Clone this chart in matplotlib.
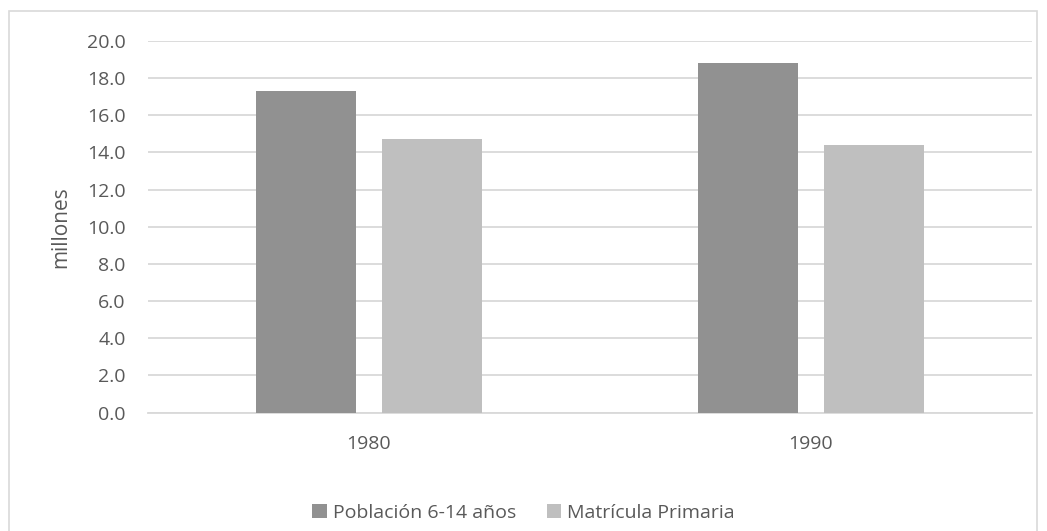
import matplotlib.pyplot as plt
import numpy as np
from matplotlib.patches import Rectangle

plt.rcParams["font.family"] = ["Open Sans", "DejaVu Sans"]

years = ["1980", "1990"]
poblacion = [17.3, 18.8]
matricula = [14.7, 14.4]
series_names = ["Población 6-14 años", "Matrícula Primaria"]
y_ticks = np.arange(0, 20.1, 2.0)

TEXT = "#595959"
GRID = "#d9d9d9"

fig = plt.figure(figsize=(10.47, 5.31), dpi=100)
ax = fig.add_axes([148 / 1047, 118.5 / 531, 884 / 1047, 371.5 / 531])

x = np.arange(len(years))
width = 0.226
offset = 0.1425
ax.bar(x - offset, poblacion, width, color="#919191", label=series_names[0], zorder=3)
ax.bar(x + offset, matricula, width, color="#bfbfbf", label=series_names[1], zorder=3)

ax.set_xlim(-0.5, 1.5)
ax.set_ylim(0, 20)
ax.set_yticks(y_ticks)
ax.set_yticklabels([f"{v:.1f}" for v in y_ticks])
ax.set_xticks(x)
ax.set_xticklabels(years)
ax.tick_params(axis="both", length=0, labelsize=14, colors=TEXT)
ax.tick_params(axis="y", pad=16)
ax.tick_params(axis="x", pad=16)
ax.grid(axis="y", color=GRID, linewidth=1.3, zorder=0)
for side in ["top", "right", "left"]:
    ax.spines[side].set_visible(False)
ax.spines["bottom"].set_color(GRID)
ax.spines["bottom"].set_linewidth(1.3)
ax.set_ylabel("millones", fontsize=15, color=TEXT, labelpad=11)

leg = fig.legend(
    loc="center",
    bbox_to_anchor=(0.5, 1 - 513 / 531),
    ncol=2,
    frameon=False,
    fontsize=14,
    handlelength=0.75,
    handleheight=0.75,
    handletextpad=0.3,
    columnspacing=1.6,
)
for t in leg.get_texts():
    t.set_color(TEXT)

# chart area border
fig.patches.append(
    Rectangle((9 / 1047, -0.01), 1028 / 1047, 1 - 11 / 531 + 0.01,
              transform=fig.transFigure, fill=False, edgecolor=GRID, linewidth=1.2)
)

fig.savefig("out.png", dpi=100)
